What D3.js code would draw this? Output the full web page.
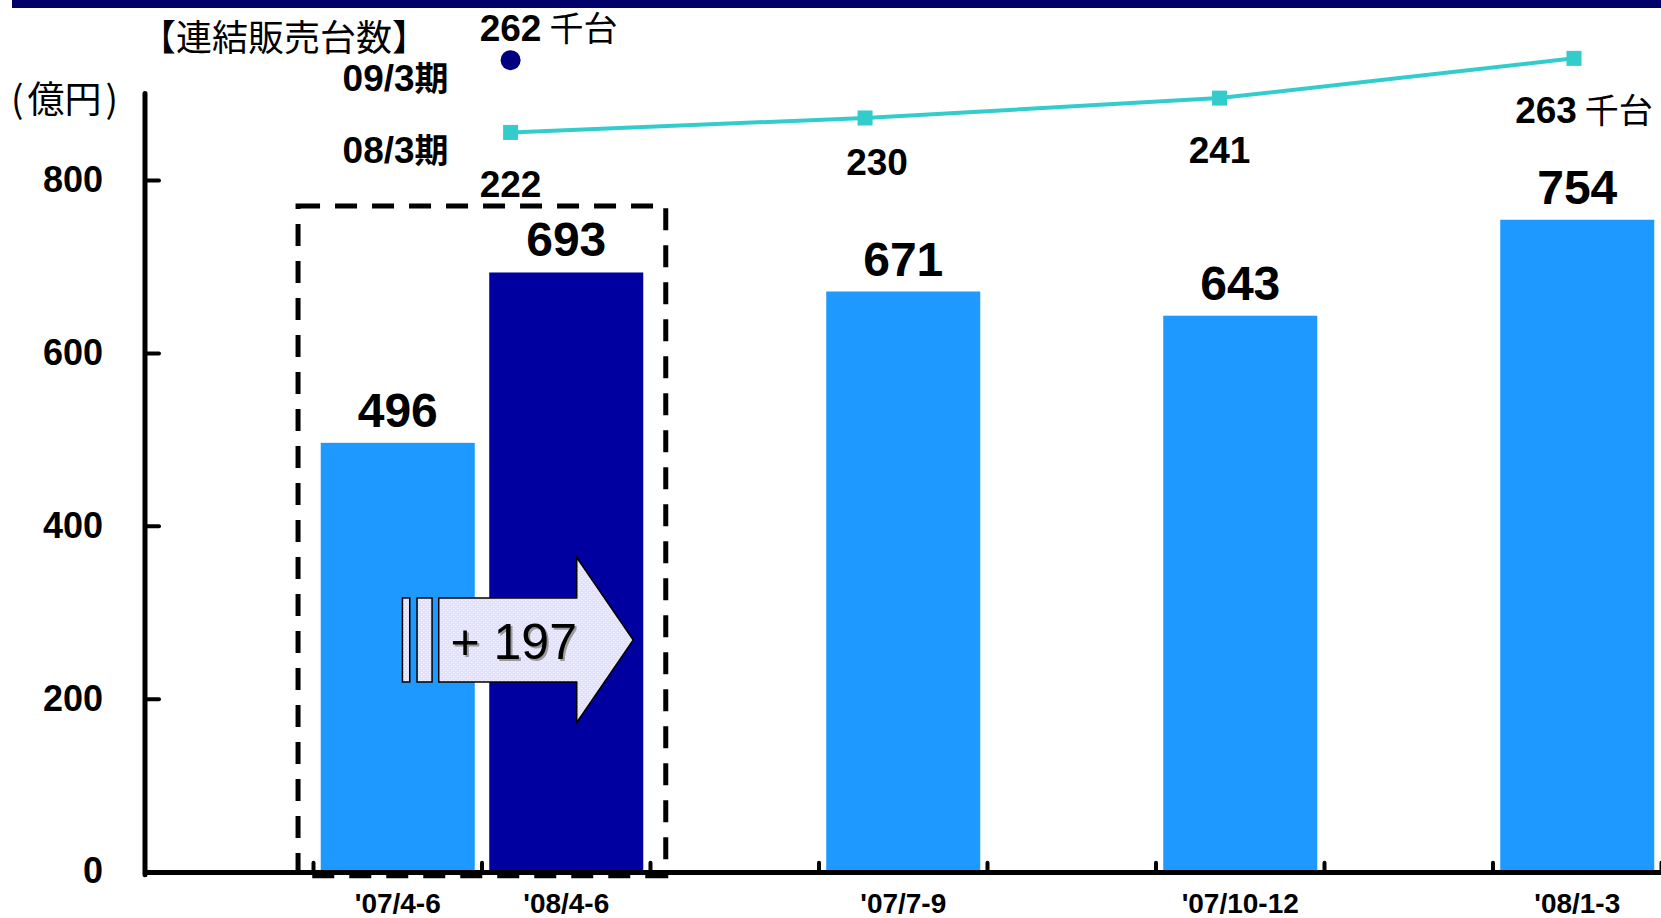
<!DOCTYPE html>
<html>
<head>
<meta charset="utf-8">
<script src="https://cdn.jsdelivr.net/npm/d3@7"></script>
<style>
  body { margin: 0; background: #fff; }
</style>
</head>
<body>
<script>
// Quarterly consolidated sales (億円)
const quarters = ["'07/4-6", "'08/4-6", "'07/7-9", "'07/10-12", "'08/1-3"];
const sales = [496, 693, 671, 643, 754];
const currentQuarter = "'08/4-6";
// Axis slots: the two compared quarters side by side, blank slots between later quarters
const slots = ["gapA", quarters[0], quarters[1], "gapB", quarters[2], "gapC", quarters[3], "gapD", quarters[4]];
const yTicks = [0, 200, 400, 600, 800];

// Consolidated unit sales (千台)
const unitQuarters = ["'07/4-6", "'07/7-9", "'07/10-12", "'08/1-3"];
const units08 = [222, 230, 241, 263];
const units09 = [262];
const seriesNames = ["08/3期", "09/3期"];

// Label placement tweaks for the unit-sales values
const unitLabelNudge = [[0, 65], [12, 57], [0, 65], [-28, 65]];

const LAT = "'Liberation Sans', Arial, Helvetica, sans-serif";
const CJK = "'Noto Sans CJK JP', 'Noto Sans CJK SC', sans-serif";

const W = 1661, H = 918;
const svg = d3.select("body").append("svg").attr("width", W).attr("height", H);

const defs = svg.append("defs");
const pat = defs.append("pattern").attr("id", "arrowFill")
  .attr("width", 4).attr("height", 4).attr("patternUnits", "userSpaceOnUse");
pat.append("rect").attr("width", 4).attr("height", 4).attr("fill", "#e2e1fa");
pat.append("rect").attr("x", 0).attr("y", 0).attr("width", 1).attr("height", 1).attr("fill", "#fff");
pat.append("rect").attr("x", 2).attr("y", 2).attr("width", 1).attr("height", 1).attr("fill", "#fff");

// Header band
svg.append("rect").attr("x", 12).attr("y", 0).attr("width", W - 12).attr("height", 8).attr("fill", "#00006b");

// Scales
const x = d3.scaleBand().domain(slots).range([145, 1661.5]).paddingInner(0.086).paddingOuter(0.043);
const y = d3.scaleLinear().domain([0, 900]).range([871.7, 93.5]);
const xu = d3.scalePoint().domain(unitQuarters).range([510.6, 1574]);
const yu = d3.scaleLinear().domain([200, 270]).range([172.2, 45.7]);

const bw = x.bandwidth();

// Bars
svg.append("g").selectAll("rect").data(quarters).join("rect")
  .attr("x", q => x(q))
  .attr("y", (q, i) => y(sales[i]))
  .attr("width", bw)
  .attr("height", (q, i) => y(0) - y(sales[i]))
  .attr("fill", q => q === currentQuarter ? "#0000a0" : "#1d99ff");

// Bar value labels
svg.append("g").selectAll("text").data(quarters).join("text")
  .attr("x", q => x(q) + bw / 2)
  .attr("y", (q, i) => y(sales[i]) - 16)
  .attr("text-anchor", "middle")
  .attr("font-family", LAT).attr("font-weight", "bold").attr("font-size", 48)
  .attr("fill", "#000")
  .text((q, i) => sales[i]);

// Dashed frame around the year-on-year comparison
const boxL = x(quarters[0]) - 22.7;
const boxR = x(quarters[1]) + bw + 22.5;
svg.append("rect")
  .attr("x", boxL).attr("y", y(770))
  .attr("width", boxR - boxL).attr("height", y(0) + 4 - y(770))
  .attr("fill", "none").attr("stroke", "#000").attr("stroke-width", 5)
  .attr("stroke-dasharray", "22 15");

// Growth arrow
const diff = sales[1] - sales[0];
const arrow = svg.append("g").attr("transform", `translate(${x(quarters[1])},${y(268)})`);
arrow.append("rect").attr("x", -86.8).attr("y", -42).attr("width", 7.3).attr("height", 84)
  .attr("fill", "url(#arrowFill)").attr("stroke", "#000").attr("stroke-width", 1.5);
arrow.append("rect").attr("x", -72.2).attr("y", -42).attr("width", 15).attr("height", 84)
  .attr("fill", "url(#arrowFill)").attr("stroke", "#000").attr("stroke-width", 1.5);
arrow.append("path")
  .attr("d", "M-50.5,-42 L87.5,-42 L87.5,-82.5 L144,0 L87.5,82.5 L87.5,42 L-50.5,42 Z")
  .attr("fill", "url(#arrowFill)").attr("stroke", "#000").attr("stroke-width", 1.5)
  .attr("stroke-linejoin", "miter");
const arrowLabel = "+ " + diff;
arrow.append("text").attr("x", -38.8 + 2).attr("y", 19.5 + 2)
  .attr("font-family", LAT).attr("font-size", 50).attr("fill", "#9a9a9a")
  .attr("xml:space", "preserve").text(arrowLabel);
arrow.append("text").attr("x", -38.8).attr("y", 19.5)
  .attr("font-family", LAT).attr("font-size", 50).attr("fill", "#000")
  .attr("xml:space", "preserve").text(arrowLabel);

// Y axis
const yAxis = svg.append("g").attr("transform", "translate(145,0)")
  .call(d3.axisLeft(y).tickValues(yTicks.filter(v => v > 0)).tickSize(-14).tickPadding(42).tickFormat(d3.format("d")));
yAxis.select(".domain").remove();
yAxis.selectAll(".tick line").attr("stroke", "#000").attr("stroke-width", 4).attr("stroke-linecap", "round");
yAxis.selectAll(".tick text")
  .attr("font-family", LAT).attr("font-weight", "bold").attr("font-size", 36).attr("fill", "#000");
svg.append("text").attr("x", 103).attr("y", y(0)).attr("dy", "0.32em")
  .attr("text-anchor", "end").attr("font-family", LAT).attr("font-weight", "bold")
  .attr("font-size", 36).text(yTicks[0]);
svg.append("line").attr("x1", 145).attr("x2", 145).attr("y1", y(900)).attr("y2", y(0) + 3)
  .attr("stroke", "#000").attr("stroke-width", 5).attr("stroke-linecap", "round");

// X axis
const x0 = x.range()[0];
svg.append("line").attr("x1", 143).attr("x2", W).attr("y1", y(0) + 0.8).attr("y2", y(0) + 0.8)
  .attr("stroke", "#000").attr("stroke-width", 5);
svg.append("g").selectAll("line").data(slots).join("line")
  .attr("x1", (s, i) => x0 + (i + 1) * x.step())
  .attr("x2", (s, i) => x0 + (i + 1) * x.step())
  .attr("y1", y(0)).attr("y2", y(0) - 9)
  .attr("stroke", "#000").attr("stroke-width", 4).attr("stroke-linecap", "round");
svg.append("g").selectAll("text").data(quarters).join("text")
  .attr("x", q => x(q) + bw / 2)
  .attr("y", 913)
  .attr("text-anchor", "middle")
  .attr("font-family", LAT).attr("font-weight", "bold").attr("font-size", 28)
  .text(q => q);

// Unit label
const unitText = svg.append("text").attr("x", 11).attr("y", 113)
  .attr("font-family", CJK).attr("font-size", 37).attr("fill", "#000");
unitText.append("tspan").text("(");
unitText.append("tspan").attr("dx", 4).text("億円");
unitText.append("tspan").attr("dx", 4).text(")");

// Unit-sales title
svg.append("text").attr("x", 140).attr("y", 51)
  .attr("font-family", CJK).attr("font-size", 36).attr("fill", "#000")
  .text("【連結販売台数】");

// Unit-sales line (08/3期)
svg.append("path")
  .datum(units08)
  .attr("d", d3.line().x((v, i) => xu(unitQuarters[i])).y(v => yu(v)))
  .attr("fill", "none").attr("stroke", "#33cccc").attr("stroke-width", 4);
svg.append("g").selectAll("rect").data(units08).join("rect")
  .attr("x", (v, i) => xu(unitQuarters[i]) - 7.5)
  .attr("y", v => yu(v) - 7.5)
  .attr("width", 15).attr("height", 15)
  .attr("fill", "#33cccc");

// Unit-sales forecast point (09/3期)
svg.append("g").selectAll("circle").data(units09).join("circle")
  .attr("cx", (v, i) => xu(unitQuarters[i]))
  .attr("cy", v => yu(v))
  .attr("r", 10)
  .attr("fill", "#000080");

function valueLabel(px, baseline, value, withUnit) {
  const num = svg.append("text").attr("x", px).attr("y", baseline)
    .attr("text-anchor", "middle")
    .attr("font-family", LAT).attr("font-weight", "bold").attr("font-size", 37)
    .text(value);
  if (withUnit) {
    const w = num.node().getComputedTextLength();
    svg.append("text").attr("x", px + w / 2 + 8).attr("y", baseline)
      .attr("font-family", CJK).attr("font-size", 34)
      .text("千台");
  }
}

units08.forEach((v, i) => {
  const [dx, dy] = unitLabelNudge[i];
  valueLabel(xu(unitQuarters[i]) + dx, yu(v) + dy, v, i === units08.length - 1);
});
units09.forEach((v, i) => {
  valueLabel(xu(unitQuarters[i]), yu(v) - 19, v, true);
});

// Series names beside the first points
function seriesLabel(px, py, name) {
  const t = svg.append("text").attr("x", px - 62).attr("y", py + 31)
    .attr("text-anchor", "end").attr("font-weight", "bold").attr("fill", "#000");
  const m = name.match(/^([0-9/]+)(.*)$/);
  t.append("tspan").attr("font-family", LAT).attr("font-size", 37).text(m[1]);
  t.append("tspan").attr("font-family", CJK).attr("font-size", 34).text(m[2]);
}
seriesLabel(xu(unitQuarters[0]), yu(units08[0]), seriesNames[0]);
seriesLabel(xu(unitQuarters[0]), yu(units09[0]), seriesNames[1]);
</script>
</body>
</html>
